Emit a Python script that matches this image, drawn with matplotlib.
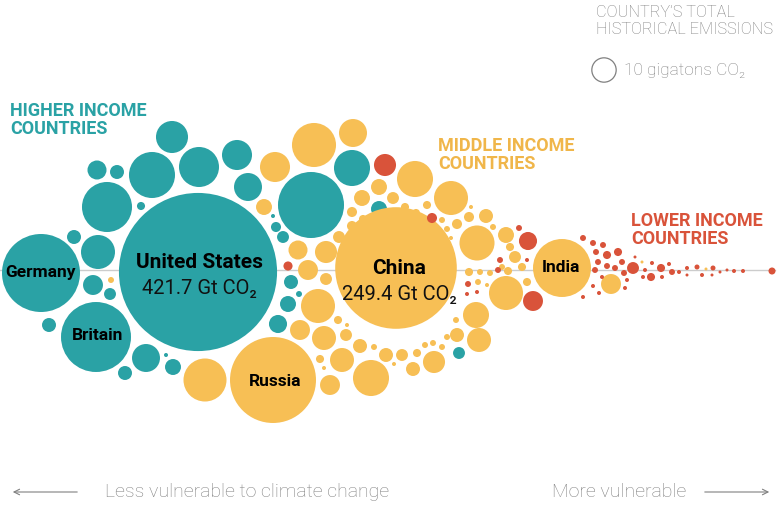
import numpy as np
import matplotlib
matplotlib.use("Agg")
import matplotlib.pyplot as plt
from matplotlib.patches import Circle

# position on the vulnerability axis, vertical offset in the swarm, total emissions (Gt CO2)
hi_vuln = [198, 41, 96, 311, 107, 152, 199, 172, 237, 248, 352, 98, 97, 117, 141, 74,
           93, 110, 49, 146, 166, 173, 125, 273, 276, 283, 291, 299, 288, 278, 379, 459]
hi_offset = [2, 3, 67, -65, -63, -95, -103, -133, -115, -83, -102, -18, -100, -98, -64, -33,
             15, 24, 55, 88, 85, 97, 103, -54, -43, -33, 12, 24, 34, 54, -61, 83]
hi_gt = [421.7, 102.6, 82.6, 73.5, 42.2, 35.7, 27.0, 17.3, 15.2, 13.2, 21.9, 19.5, 6.1, 3.3, 1.1, 3.3,
         6.7, 2.4, 3.3, 13.2, 0.27, 4.3, 3.3, 0.27, 1.7, 2.4, 3.3, 0.6, 4.3, 5.5, 4.3, 2.4]

mid_vuln = [396, 273, 562, 205, 314, 275, 353, 415, 451, 264, 362, 379, 393, 405, 395, 416,
            427, 352, 363, 352, 339, 298, 326, 308, 326, 111, 442, 457, 469, 447, 451, 477,
            486, 471, 493, 506, 510, 515, 502, 508, 522, 469, 480, 490, 478, 487, 527, 506,
            476, 479, 456, 457, 447, 442, 433, 425, 417, 402, 386, 374, 360, 346, 347, 338,
            318, 300, 324, 342, 320, 324, 330, 371, 394, 413, 434, 611, 642, 706]
mid_offset = [-2, 110, -2, 110, -125, -103, -137, -91, -72, -63, -72, -83, -72, -63, -58, -57,
              -65, -58, -51, -44, -33, -20, -18, 0, 9, 10, -50, -46, -53, -41, -32, -27,
              -54, -63, -43, -35, -23, -13, -3, 1, -3, 2, 2, 3, 12, 15, 12, 23,
              45, 70, 50, 65, 67, 77, 73, 75, 83, 85, 85, 77, 76, 65, 55, 50,
              36, 60, 68, 90, 89, 98, 115, 108, 94, 99, 92, 14, -8, -1]
mid_gt = [249.4, 124.7, 56.7, 31.2, 32.7, 15.2, 13.2, 21.9, 19.5, 4.3, 4.3, 4.3, 2.4, 1.1, 0.6, 1.1,
          1.1, 1.7, 1.1, 1.7, 2.4, 6.1, 8.2, 6.7, 2.4, 0.6, 0.6, 1.7, 1.7, 0.6, 0.27, 20.7,
          3.3, 0.27, 0.6, 4.3, 1.1, 2.4, 0.6, 1.1, 1.1, 1.1, 0.6, 0.6, 0.6, 0.27, 1.1, 19.5,
          11.4, 9.7, 0.6, 3.3, 0.6, 0.6, 0.6, 0.6, 1.1, 2.4, 3.3, 0.6, 3.3, 2.4, 0.27, 1.1,
          19.5, 6.7, 9.7, 9.7, 1.1, 0.27, 6.7, 21.9, 0.27, 3.3, 8.2, 6.7, 0.15, 0.15]

lo_vuln = [385, 432, 288, 528, 533, 519, 500, 498, 527, 468, 477, 467, 583, 593, 603, 596,
           607, 618, 598, 607, 615, 622, 624, 633, 645, 652, 661, 651, 662, 669, 672, 679,
           687, 687, 697, 702, 713, 712, 720, 727, 734, 743, 772, 627, 625, 595, 602, 593,
           583, 599, 635, 643]
lo_offset = [-105, -52, -4, -29, 31, -42, -10, 0, -10, 14, 22, 24, -32, -27, -25, -18,
             -15, -18, -8, -4, -2, -8, 3, -2, 0, -7, -2, 7, 7, -6, 2, 2,
             -2, 5, -3, 5, -2, 5, 2, 0, 1, 1, 1, 10, 18, 0, 7, 16,
             27, 23, -13, 7]
lo_gt = [8.2, 1.7, 1.4, 5.5, 6.7, 0.6, 0.6, 0.6, 0.27, 0.6, 0.27, 0.27, 0.6, 0.6, 0.6, 0.6,
         1.1, 1.1, 0.6, 0.6, 0.6, 0.6, 0.6, 2.4, 0.27, 0.27, 1.1, 1.1, 0.27, 0.27, 0.6, 0.27,
         0.27, 0.15, 0.42, 0.27, 0.42, 0.15, 0.15, 0.15, 0.27, 0.27, 0.83, 0.27, 0.27, 0.6, 0.27, 0.27,
         0.27, 0.27, 0.15, 0.27]

labels = ["United States", "Germany", "Britain", "China", "Russia", "India"]
label_vuln = [199, 40, 98, 399, 275, 561]
label_offset = [-7, 2, 65, -2, 111, -2]

TEAL = "#2aa2a5"
YELLOW = "#f7bf55"
RED = "#d9533a"
GRAY = "#808080"
FONT = ["Roboto", "DejaVu Sans"]

K = 3.85  # radius per sqrt(Gt)

fig = plt.figure(figsize=(7.8, 5.2), dpi=100)
ax = fig.add_axes([0, 0, 1, 1])
ax.set_xlim(0, 780)
ax.set_ylim(250, -270)
ax.set_aspect("equal")
ax.axis("off")

ax.plot([0, 775], [0, 0], color="#cccccc", lw=1, zorder=0)

for vx, vy, gt, col in [(hi_vuln, hi_offset, hi_gt, TEAL),
                        (mid_vuln, mid_offset, mid_gt, YELLOW),
                        (lo_vuln, lo_offset, lo_gt, RED)]:
    for x, y, g in zip(vx, vy, gt):
        ax.add_patch(Circle((x, y), K * np.sqrt(g), facecolor=col, edgecolor="none", zorder=2))

# country labels
for name, x, y in zip(labels, label_vuln, label_offset):
    size = 15 if name in ("United States", "China") else 12.5
    ax.text(x, y, name, family=FONT, weight="bold", fontsize=size, ha="center", va="center",
            color="black", zorder=3)
ax.text(199, 19, "421.7 Gt CO\u2082", family=FONT, weight="normal", fontsize=14.5,
        color="#111111", ha="center", va="center", zorder=3)
ax.text(399, 25, "249.4 Gt CO\u2082", family=FONT, weight="normal", fontsize=14.5,
        color="#111111", ha="center", va="center", zorder=3)

# group labels
ax.text(10, -168, "HIGHER INCOME\nCOUNTRIES", family=FONT, weight="bold", fontsize=13,
        color=TEAL, va="top", linespacing=1.0)
ax.text(438, -133, "MIDDLE INCOME\nCOUNTRIES", family=FONT, weight="bold", fontsize=13,
        color="#f0b64a", va="top", linespacing=1.0)
ax.text(631, -58, "LOWER INCOME\nCOUNTRIES", family=FONT, weight="bold", fontsize=13,
        color=RED, va="top", linespacing=1.0)

# size legend
ax.text(596, -265, "COUNTRY\u2019S TOTAL\nHISTORICAL EMISSIONS", family=FONT, weight="light",
        fontsize=11.8, color=GRAY, va="top", linespacing=1.2)
ax.add_patch(Circle((604, -200), K * np.sqrt(10), facecolor="none", edgecolor=GRAY, lw=0.9))
ax.text(624, -199, "10 gigatons CO\u2082", family=FONT, weight="light", fontsize=12.5,
        color=GRAY, va="center")

# vulnerability direction
ax.annotate("", xy=(10, 222), xytext=(80, 222),
            arrowprops=dict(arrowstyle="->", color=GRAY, lw=0.8))
ax.annotate("", xy=(772, 222), xytext=(702, 222),
            arrowprops=dict(arrowstyle="->", color=GRAY, lw=0.8))
ax.text(105, 222, "Less vulnerable to climate change", family=FONT, weight="light",
        fontsize=14, color=GRAY, va="center")
ax.text(552, 222, "More vulnerable", family=FONT, weight="light", fontsize=14,
        color=GRAY, va="center")

fig.savefig("out.png", dpi=100)
